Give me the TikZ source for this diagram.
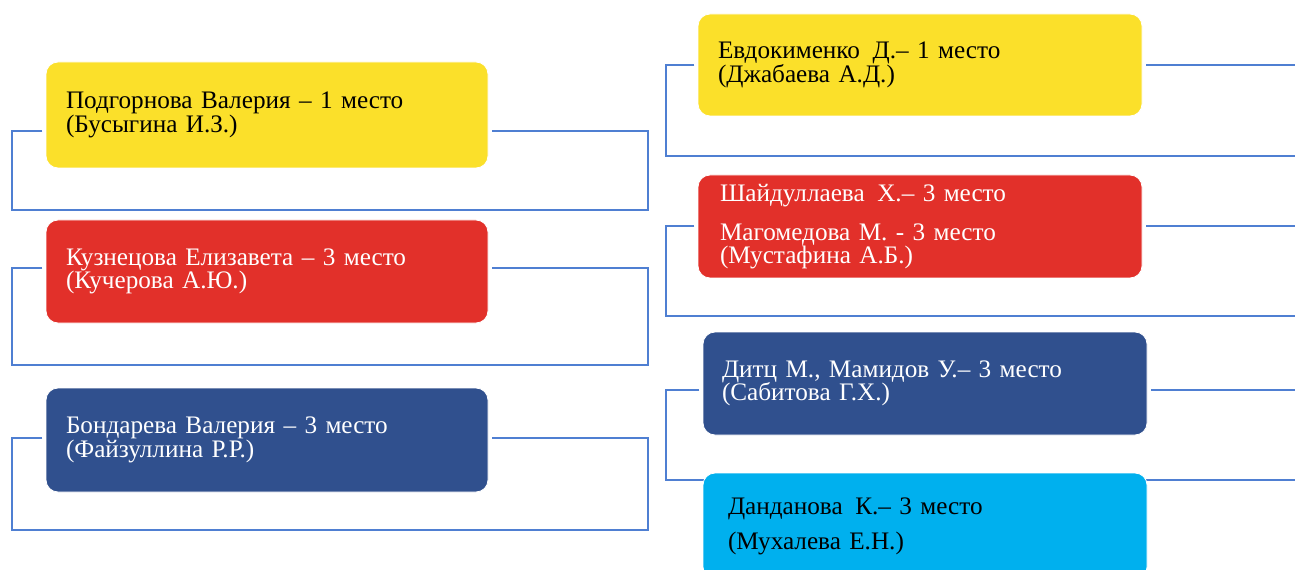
\documentclass[tikz,border=0pt]{standalone}
\usepackage{fontspec}
\setmainfont{Liberation Serif}
\lineskiplimit=-20pt
\definecolor{cyel}{HTML}{FBE02A}
\definecolor{cred}{HTML}{E2302A}
\definecolor{cdb}{HTML}{30508E}
\definecolor{ccy}{HTML}{00B0EE}
\definecolor{cline}{HTML}{4F7FD2}
\tikzset{
  box/.style={rounded corners=9pt, draw=white, line width=0.6pt, inner xsep=15pt, inner ysep=0pt,
    align=left, minimum height=78pt,
    font={\fontsize{18.9pt}{17.6pt}\selectfont\lineskiplimit=-20pt}},
  lbox/.style={box, text width=301.5pt, minimum width=331.5pt},
  rbox/.style={box, text width=303pt, minimum width=333pt},
  conn/.style={draw=cline, line width=1.5pt, shorten <=2.5pt, shorten >=2.5pt}
}
\begin{document}
\begin{tikzpicture}[x=0.75pt,y=-0.75pt]
\clip (0,0) rectangle (1295,570);
% left column
\node[lbox, fill=cyel, text=black, minimum height=79.5pt] (LY) at (267,115)
  {Подгорнова Валерия – 1 место\\(Бусыгина И.З.)};
\node[lbox, fill=cred, text=white, minimum height=77.25pt] (LR) at (267,271.5)
  {Кузнецова Елизавета – 3 место\\(Кучерова А.Ю.)};
\node[lbox, fill=cdb, text=white] (LB) at (267,440)
  {Бондарева Валерия – 3 место\\(Файзуллина Р.Р.)};
% right column
\node[rbox, fill=cyel, text=black, minimum height=76.5pt] (RY) at (920,65)
  {Евдокименко\ \,Д.– 1 место\\(Джабаева А.Д.)};
\node[rbox, fill=cred, text=white, minimum height=77.25pt, inner xsep=16.5pt, text width=300pt] (RR) at (920,226.5)
  {Шайдуллаева\ \,Х.– 3 место\\[11.5pt]Магомедова М. - 3 место\\(Мустафина А.Б.)};
\node[rbox, fill=cdb, text=white, minimum height=77.25pt, inner xsep=14.25pt, text width=304.5pt] (RD) at (925,383.5)
  {Дитц М., Мамидов У.– 3 место\\(Сабитова Г.Х.)};
% connector corners
\coordinate (LYtl) at (12,131);  \coordinate (LYbl) at (12,210);
\coordinate (LYbr) at (648,210); \coordinate (LYtr) at (648,131);
\coordinate (LRtl) at (12,268);  \coordinate (LRbl) at (12,365);
\coordinate (LRbr) at (648,365); \coordinate (LRtr) at (648,268);
\coordinate (LBtl) at (12,438);  \coordinate (LBbl) at (12,530);
\coordinate (LBbr) at (648,530); \coordinate (LBtr) at (648,438);
\coordinate (RYtl) at (666,65);   \coordinate (RYbl) at (666,156);
\coordinate (RYbr) at (1320,156); \coordinate (RYtr) at (1320,65);
\coordinate (RRtl) at (666,226);  \coordinate (RRbl) at (666,316);
\coordinate (RRbr) at (1320,316); \coordinate (RRtr) at (1320,226);
\coordinate (RDtl) at (666,390);  \coordinate (RDbl) at (666,480);
\coordinate (RDbr) at (1320,480); \coordinate (RDtr) at (1320,390);
\draw[conn] (LY.west |- LYtl) -- (LYtl) -- (LYbl) -- (LYbr) -- (LYtr) -- (LY.east |- LYtr);
\draw[conn] (LR.west |- LRtl) -- (LRtl) -- (LRbl) -- (LRbr) -- (LRtr) -- (LR.east |- LRtr);
\draw[conn] (LB.west |- LBtl) -- (LBtl) -- (LBbl) -- (LBbr) -- (LBtr) -- (LB.east |- LBtr);
\draw[conn] (RY.west |- RYtl) -- (RYtl) -- (RYbl) -- (RYbr) -- (RYtr) -- (RY.east |- RYtr);
\draw[conn] (RR.west |- RRtl) -- (RRtl) -- (RRbl) -- (RRbr) -- (RRtr) -- (RR.east |- RRtr);
\draw[conn] (RD.west |- RDtl) -- (RDtl) -- (RDbl) -- (RDbr) -- (RDtr) -- (RD.east |- RDtr);
% cyan box over the last connector
\node[rbox, fill=ccy, text=black, minimum height=79.5pt, inner xsep=18.75pt, text width=295.5pt] (RC) at (925,526)
  {Данданова\ \,К.– 3 место\\[8.5pt](Мухалева Е.Н.)};
\end{tikzpicture}
\end{document}
